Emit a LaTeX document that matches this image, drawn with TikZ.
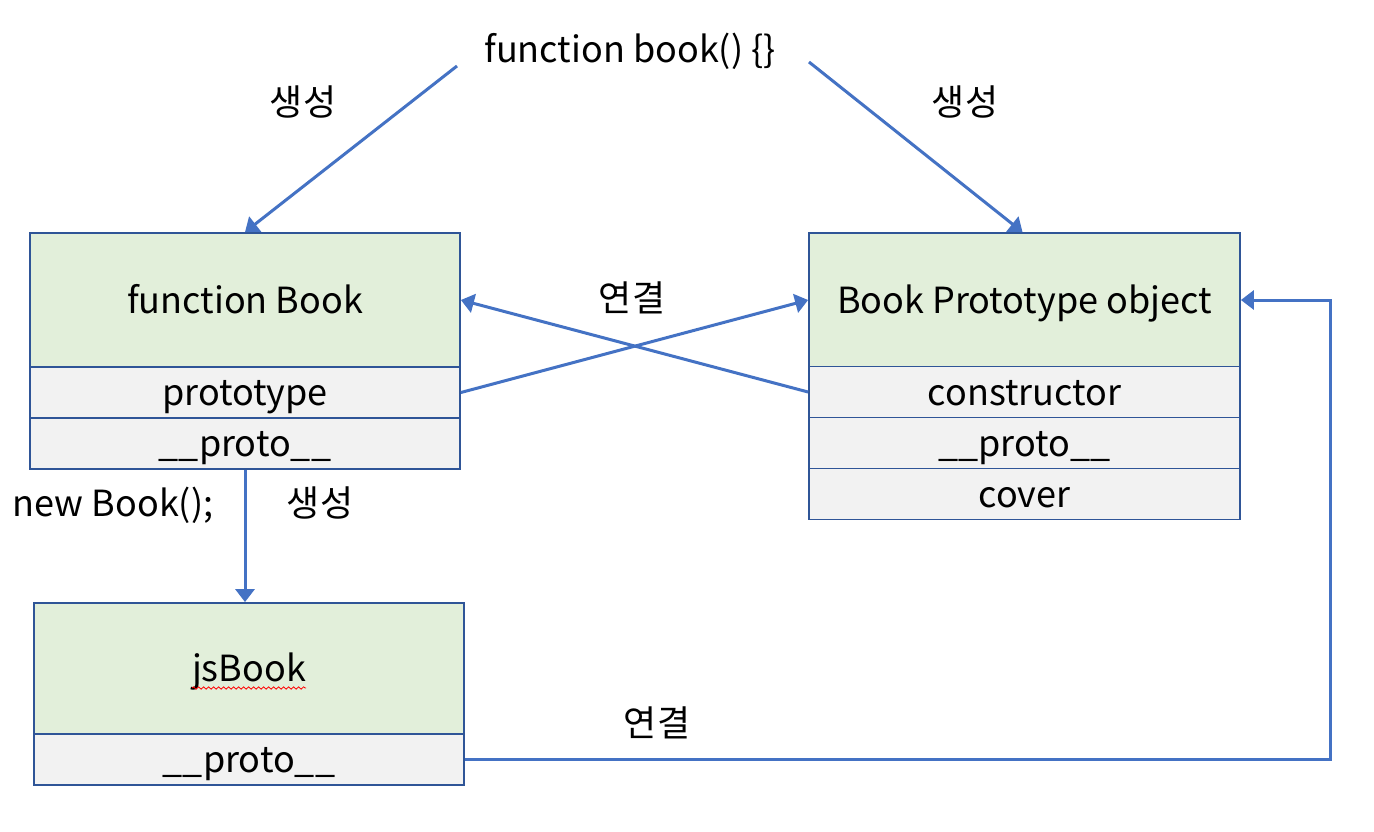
\documentclass[tikz,border=0pt]{standalone}
\usepackage{fontspec}
\setmainfont{Noto Sans CJK KR}
\usetikzlibrary{arrows.meta,decorations.pathmorphing}
\definecolor{ln}{HTML}{4472C4}
\definecolor{bd}{HTML}{2F5597}
\definecolor{gr}{HTML}{E2EFDA}
\definecolor{gy}{HTML}{F2F2F2}
\newcommand\dfont{\fontsize{36}{40}\selectfont}
\begin{document}
\begin{tikzpicture}[x=1pt,y=-1pt,
 txt/.style={font=\dfont, text height=30pt, text depth=4pt},
 head/.style={txt, draw=bd, line width=1.8pt, fill=gr, minimum width=430pt, minimum height=134pt, inner sep=0pt},
 row/.style={txt, draw=bd, line width=1.8pt, fill=gy, minimum width=430pt, minimum height=51pt, inner sep=0pt},
 conn/.style={draw=ln, line width=3pt, -{Triangle[length=13pt,width=19pt]}},
 lbl/.style={txt, inner sep=0pt}]
\useasboundingbox[fill=white] (0,0) rectangle (1374,832);
% function Book
\node[head] (fb) at (245,300) {function Book};
\node[row] (fbp) at (245,392.5) {prototype};
\node[row] (fbpp) at (245,443.5) {\_\_proto\_\_};
% Book Prototype object
\node[head, minimum width=431pt] (bp) at (1024.5,300) {Book Prototype object};
\node[row, minimum width=431pt] (bpc) at (1024.5,392) {constructor};
\node[row, minimum width=431pt] (bpp) at (1024.5,443) {\_\_proto\_\_};
\node[row, minimum width=431pt] (bpcov) at (1024.5,494) {cover};
% jsBook
\node[head, minimum height=131pt] (js) at (249,668.5) {jsBook};
\node[row] (jsp) at (249,759.5) {\_\_proto\_\_};
\draw[red, line width=0.8pt, decorate, decoration={snake, amplitude=1.2pt, segment length=5pt}] (192,688) -- (306,688);
% texts
\node[lbl] (title) at (630,50) {function book() \{\}};
\node[lbl] (l1) at (303,103) {생성};
\node[lbl] (l2) at (965,103) {생성};
\node[lbl] (l3) at (632,298) {연결};
\node[lbl] (l4) at (113,503) {new Book();};
\node[lbl] (l5) at (320,503) {생성};
\node[lbl] (l6) at (657,723) {연결};
\coordinate (s1) at (457,66);
\coordinate (s2) at (809,62);
% connectors
\draw[conn] (s1) -- (fb.north);
\draw[conn] (s2) -- ([xshift=-2pt]bp.north);
\draw[conn] (fbp.east) -- (bp.west);
\draw[conn] (bpc.west) -- (fb.east);
\draw[conn] (fbpp.south) -- (fbpp.south |- js.north);
\draw[conn] (jsp.east) -| ([xshift=90pt]bp.east) -- (bp.east);
\end{tikzpicture}
\end{document}
